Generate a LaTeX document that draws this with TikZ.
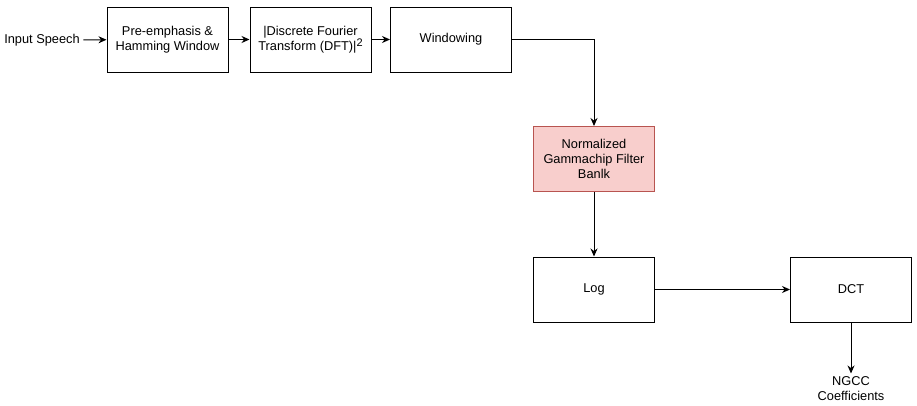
\documentclass[tikz,border=0pt]{standalone}
\usepackage{fontspec}
\setmainfont{Liberation Sans}
\usetikzlibrary{arrows.meta}
\definecolor{pinkfill}{HTML}{F8CECC}
\definecolor{pinkline}{HTML}{B85450}
\begin{document}
\begin{tikzpicture}[x=1pt,y=-1pt,
  every node/.style={font=\fontsize{12.8}{15}\selectfont, align=center},
  blockbox/.style={draw=black, line width=1pt, minimum width=121pt, minimum height=65pt, inner sep=0pt},
  conn/.style={line width=1pt, -{Stealth[length=8pt,width=7pt]}}]
\useasboundingbox (0,0) rectangle (917,405);
\node (in) at (42,40) {Input Speech};
\node[blockbox] (pre) at (167.5,39.5) {Pre-emphasis \&\\Hamming Window};
\node[blockbox] (dft) at (310.5,39.5) {|Discrete Fourier\\Transform (DFT)|\raisebox{0.55ex}{\fontsize{11}{11}\selectfont 2}};
\node[blockbox] (win) at (451,39.5) {Windowing};
\node[blockbox, fill=pinkfill, draw=pinkline] (gfb) at (594,159) {Normalized\\Gammachip Filter\\Banlk};
\node[blockbox] (log) at (594,289.5) {Log};
\node[blockbox] (dct) at (851,289.5) {DCT};
\node (out) at (851,389) {NGCC\\Coefficients};
\draw[conn] (in) -- (pre);
\draw[conn] (pre) -- (dft);
\draw[conn] (dft) -- (win);
\draw[conn] (win.east) -| (gfb.north);
\draw[conn] (gfb) -- (log);
\draw[conn] (log) -- (dct);
\draw[conn] (dct.south) -- (out.north);
\end{tikzpicture}
\end{document}
